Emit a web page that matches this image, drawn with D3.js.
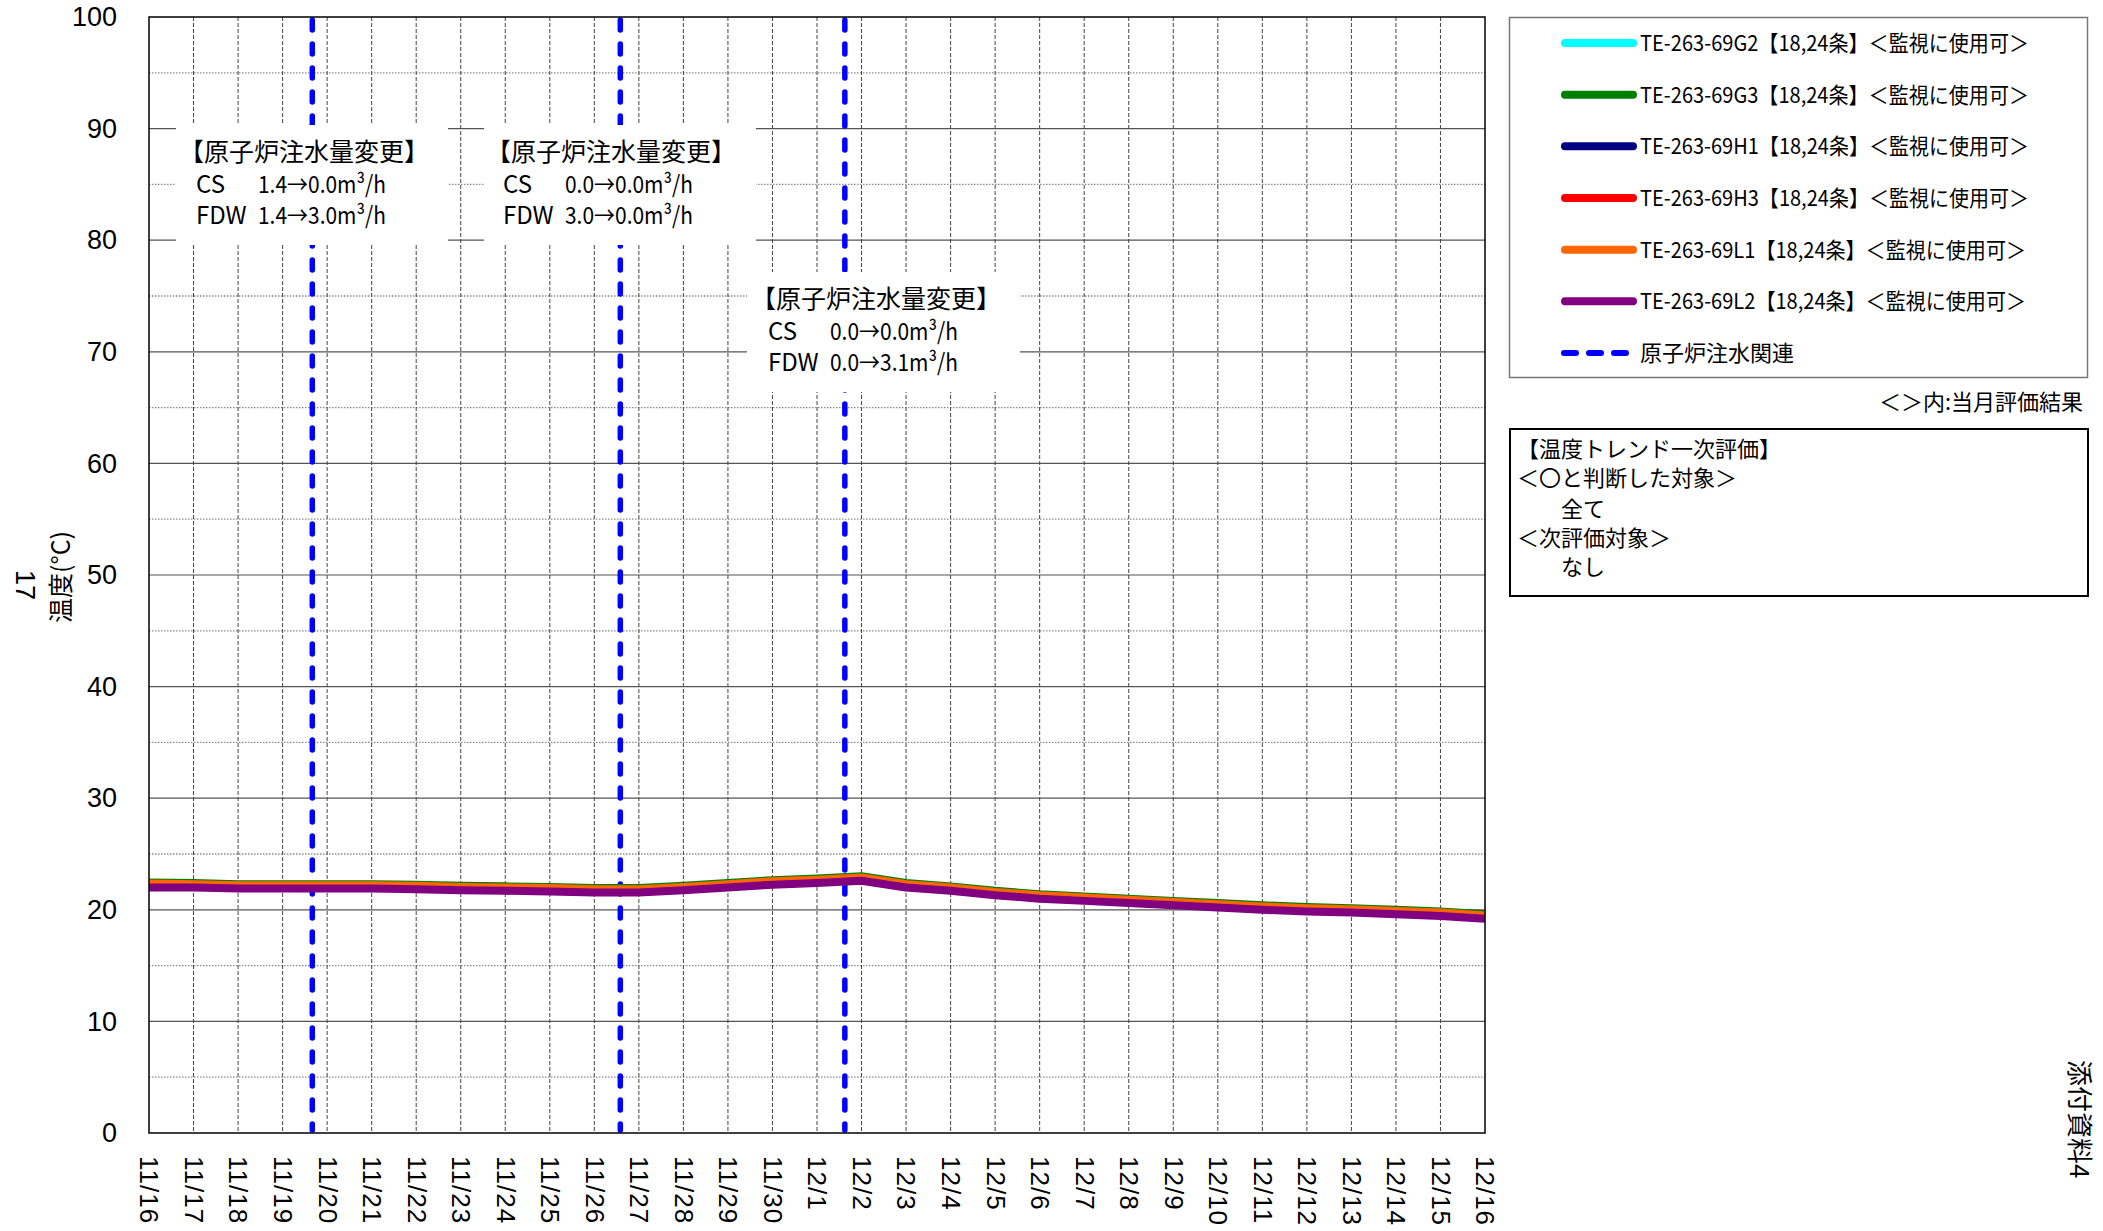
<!DOCTYPE html>
<html>
<head>
<meta charset="utf-8">
<script src="https://cdn.jsdelivr.net/npm/d3@7"></script>
<style>
  body { margin: 0; background: #fff; }
  svg { display: block; }
  text { fill: #000; }
</style>
</head>
<body>
<svg id="chart" width="2103" height="1231"></svg>
<script>
// ---- data (daily, 11/16 .. 12/16) ----
var dayLabels = ['11/16','11/17','11/18','11/19','11/20','11/21','11/22','11/23','11/24','11/25',
  '11/26','11/27','11/28','11/29','11/30','12/1','12/2','12/3','12/4','12/5','12/6','12/7',
  '12/8','12/9','12/10','12/11','12/12','12/13','12/14','12/15','12/16'];

var g2 = [22.2,22.15,22.05,22.05,22.05,22.05,22.0,21.9,21.85,21.8,21.7,21.7,21.9,22.15,22.4,22.55,
  22.75,22.15,21.85,21.45,21.15,20.95,20.75,20.55,20.35,20.15,20.0,19.9,19.75,19.6,19.35];
var g3 = [22.45,22.4,22.3,22.3,22.3,22.3,22.25,22.15,22.1,22.05,21.95,21.95,22.15,22.4,22.65,22.8,
  23.0,22.4,22.1,21.7,21.4,21.2,21.0,20.8,20.6,20.4,20.25,20.15,20.0,19.85,19.6];
var h1 = [22.1,22.1,22.0,22.0,22.0,22.0,21.95,21.85,21.8,21.75,21.65,21.65,21.85,22.1,22.35,22.5,
  22.7,22.1,21.8,21.4,21.1,20.9,20.7,20.5,20.3,20.1,19.95,19.85,19.7,19.55,19.3];
var h3 = [22.25,22.2,22.1,22.1,22.1,22.1,22.05,21.95,21.9,21.85,21.75,21.75,21.95,22.2,22.45,22.6,
  22.8,22.2,21.9,21.5,21.2,21.0,20.8,20.6,20.4,20.2,20.05,19.95,19.8,19.65,19.4];
var l1 = [22.35,22.3,22.2,22.2,22.2,22.2,22.15,22.05,22.0,21.95,21.85,21.85,22.05,22.3,22.55,22.7,
  22.9,22.3,22.0,21.6,21.3,21.1,20.9,20.7,20.5,20.3,20.15,20.05,19.9,19.75,19.5];
var l2 = [22.0,22.0,21.9,21.9,21.9,21.9,21.85,21.75,21.7,21.65,21.55,21.55,21.75,22.0,22.25,22.4,
  22.6,22.0,21.7,21.3,21.0,20.8,20.6,20.4,20.2,20.0,19.85,19.75,19.6,19.45,19.2];

var seriesNames = ['TE-263-69G2【18,24条】＜監視に使用可＞','TE-263-69G3【18,24条】＜監視に使用可＞',
  'TE-263-69H1【18,24条】＜監視に使用可＞','TE-263-69H3【18,24条】＜監視に使用可＞',
  'TE-263-69L1【18,24条】＜監視に使用可＞','TE-263-69L2【18,24条】＜監視に使用可＞'];
var seriesColors = ['#00ffff','#008000','#000080','#ff0000','#ff6600','#800080'];
var seriesValues = [g2, g3, h1, h3, l1, l2];

// water injection change events (year, month index, day, hour)
var eventTimes = [[2013,10,19,16], [2013,10,26,14.5], [2013,11,1,15]];
var eventNotes = [
  ['【原子炉注水量変更】', 'CS', '1.4→0.0m³/h', 'FDW', '1.4→3.0m³/h'],
  ['【原子炉注水量変更】', 'CS', '0.0→0.0m³/h', 'FDW', '3.0→0.0m³/h'],
  ['【原子炉注水量変更】', 'CS', '0.0→0.0m³/h', 'FDW', '0.0→3.1m³/h']
];
var yTicks = [0,10,20,30,40,50,60,70,80,90,100];

var evalLines = ['【温度トレンド一次評価】', '＜〇と判断した対象＞', '全て', '＜次評価対象＞', 'なし'];

// ---- layout ----
var plotL = 149, plotR = 1485, plotT = 17, plotB = 1133;
var cjk = '"Noto Sans CJK JP", sans-serif';
var latin = '"Liberation Sans", Arial, sans-serif';

var svg = d3.select('#chart');
var dates = dayLabels.map(function (d, i) { return new Date(2013, 10, 16 + i); });

var x = d3.scaleTime().domain([dates[0], dates[dates.length - 1]]).range([plotL, plotR]);
var y = d3.scaleLinear().domain([0, 100]).range([plotB, plotT]);

// grid
var grid = svg.append('g');
grid.selectAll('.minor').data(d3.range(5, 100, 10)).enter().append('line')
  .attr('x1', plotL).attr('x2', plotR)
  .attr('y1', function (d) { return y(d); }).attr('y2', function (d) { return y(d); })
  .attr('stroke', '#8a8a8a').attr('stroke-width', 1.3).attr('stroke-dasharray', '1.5,1.5');
grid.selectAll('.major').data(yTicks.slice(1, -1)).enter().append('line')
  .attr('x1', plotL).attr('x2', plotR)
  .attr('y1', function (d) { return y(d); }).attr('y2', function (d) { return y(d); })
  .attr('stroke', '#555').attr('stroke-width', 1.2);
grid.selectAll('.vday').data(dates.slice(1, -1)).enter().append('line')
  .attr('x1', function (d) { return x(d); }).attr('x2', function (d) { return x(d); })
  .attr('y1', plotT).attr('y2', plotB)
  .attr('stroke', '#444').attr('stroke-width', 1).attr('stroke-dasharray', '4,2');

// event lines
svg.append('g').selectAll('line').data(eventTimes).enter().append('line')
  .attr('x1', function (d) { return x(new Date(d[0], d[1], d[2], d[3])); })
  .attr('x2', function (d) { return x(new Date(d[0], d[1], d[2], d[3])); })
  .attr('y1', plotT + 3).attr('y2', plotB - 3)
  .attr('stroke', '#0000ff').attr('stroke-width', 5.5)
  .attr('stroke-dasharray', '10,14').attr('stroke-linecap', 'round');

// series
var line = d3.line()
  .x(function (d, i) { return x(dates[i]); })
  .y(function (d) { return y(d); });
svg.append('g').selectAll('path').data(seriesValues).enter().append('path')
  .attr('d', line)
  .attr('fill', 'none')
  .attr('stroke', function (d, i) { return seriesColors[i]; })
  .attr('stroke-width', 8)
  .attr('stroke-linejoin', 'round');

// note boxes
var noteBoxes = [[176, 125, 272, 120], [484, 125, 272, 120], [747, 272, 273, 120]];
var noteText = [[193, 161], [500, 161], [765, 308]];
noteBoxes.forEach(function (b, i) {
  svg.append('rect').attr('x', b[0]).attr('y', b[1]).attr('width', b[2]).attr('height', b[3])
    .attr('fill', '#fff');
  var tx = noteText[i][0], ty = noteText[i][1], n = eventNotes[i];
  var g = svg.append('g').style('font-family', cjk).style('font-size', '24px');
  g.append('text').attr('x', tx - 14).attr('y', ty).attr('textLength', 250)
    .attr('lengthAdjust', 'spacingAndGlyphs').style('font-size', '25px').text(n[0]);
  g.append('text').attr('x', tx + 3).attr('y', ty + 32).text(n[1]);
  g.append('text').attr('x', tx + 65).attr('y', ty + 32).attr('textLength', 128)
    .attr('lengthAdjust', 'spacingAndGlyphs').text(n[2]);
  g.append('text').attr('x', tx + 3).attr('y', ty + 63).text(n[3]);
  g.append('text').attr('x', tx + 65).attr('y', ty + 63).attr('textLength', 128)
    .attr('lengthAdjust', 'spacingAndGlyphs').text(n[4]);
});

// frame
svg.append('rect').attr('x', plotL).attr('y', plotT)
  .attr('width', plotR - plotL).attr('height', plotB - plotT)
  .attr('fill', 'none').attr('stroke', '#000').attr('stroke-width', 1.5);

// y axis labels
var yAxis = d3.axisLeft(y).tickValues(yTicks).tickSize(0).tickPadding(32);
var ya = svg.append('g').attr('transform', 'translate(' + plotL + ',0)').call(yAxis);
ya.select('.domain').remove();
ya.selectAll('text').style('font-family', latin).style('font-size', '27px').attr('fill', '#000');

// x axis labels, rotated
var xAxis = d3.axisBottom(x).tickValues(dates).tickSize(0)
  .tickFormat(function (d, i) { return dayLabels[i]; });
var xa = svg.append('g').attr('transform', 'translate(0,' + plotB + ')').call(xAxis);
xa.select('.domain').remove();
xa.selectAll('text')
  .style('font-family', latin).style('font-size', '26px').style('letter-spacing', '1px')
  .attr('fill', '#000')
  .attr('text-anchor', 'start')
  .attr('transform', 'rotate(90)')
  .attr('x', 23).attr('y', 0).attr('dy', '0.35em');

// y title and page number
svg.append('text').attr('transform', 'translate(70,577) rotate(-90)')
  .attr('text-anchor', 'middle').style('font-family', cjk).style('font-size', '25px')
  .text('温度(°C)');
svg.append('text').attr('transform', 'translate(25,585) rotate(90)')
  .attr('text-anchor', 'middle').attr('dy', '0.35em')
  .style('font-family', latin).style('font-size', '27px').text('17');

// legend
svg.append('rect').attr('x', 1509.5).attr('y', 17.5).attr('width', 578).attr('height', 360)
  .attr('fill', '#fff').attr('stroke', '#777').attr('stroke-width', 1.5);
var rowY = d3.scalePoint().domain(d3.range(7)).range([43, 353]);
var leg = svg.append('g').style('font-family', cjk).style('font-size', '22px');
seriesNames.forEach(function (name, i) {
  leg.append('line').attr('x1', 1565).attr('x2', 1633)
    .attr('y1', rowY(i)).attr('y2', rowY(i))
    .attr('stroke', seriesColors[i]).attr('stroke-width', 8).attr('stroke-linecap', 'round');
  leg.append('text').attr('x', 1640).attr('y', rowY(i) + 8)
    .attr('textLength', i < 4 ? 389 : 386).attr('lengthAdjust', 'spacingAndGlyphs')
    .text(name);
});
leg.append('line').attr('x1', 1564).attr('x2', 1630)
  .attr('y1', rowY(6)).attr('y2', rowY(6))
  .attr('stroke', '#0000ff').attr('stroke-width', 6)
  .attr('stroke-dasharray', '12,13').attr('stroke-linecap', 'round');
leg.append('text').attr('x', 1640).attr('y', rowY(6) + 8).text('原子炉注水関連');

svg.append('text').attr('x', 2083).attr('y', 410).attr('text-anchor', 'end')
  .style('font-family', cjk).style('font-size', '22px').text('＜＞内:当月評価結果');

// evaluation box
svg.append('rect').attr('x', 1510).attr('y', 429).attr('width', 578).attr('height', 167)
  .attr('fill', '#fff').attr('stroke', '#000').attr('stroke-width', 2);
var evY = [457, 486, 517, 546, 575];
var evX = [1517, 1517, 1561, 1517, 1561];
svg.append('g').style('font-family', cjk).style('font-size', '22px')
  .selectAll('text').data(evalLines).enter().append('text')
  .attr('x', function (d, i) { return evX[i]; })
  .attr('y', function (d, i) { return evY[i]; })
  .text(function (d) { return d; });

// attachment label
svg.append('text').attr('transform', 'translate(2079,1060) rotate(90)')
  .attr('dy', '0.35em').style('font-family', cjk).style('font-size', '26px').text('添付資料4');
</script>
</body>
</html>
